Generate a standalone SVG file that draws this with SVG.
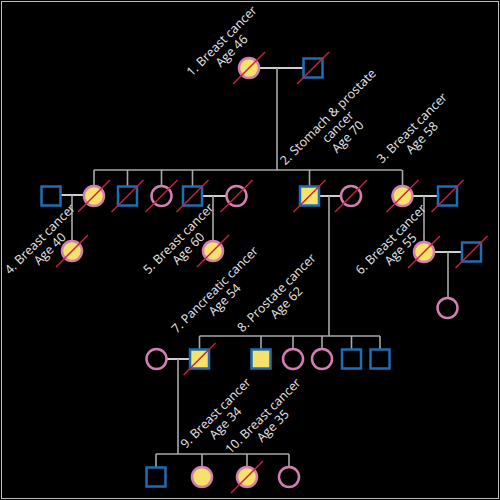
<svg xmlns="http://www.w3.org/2000/svg" xmlns:xlink="http://www.w3.org/1999/xlink" width="500" height="500" viewBox="0 0 500 500">
<style>
.f{stroke:#d47fb3;stroke-width:2.5;fill:none}
.m{stroke:#1f6db5;stroke-width:2.5;fill:none}
.a{fill:#f4e26b}
.ln{stroke:#a8a8a8;stroke-width:1.6;fill:none}
.mar{stroke:#cfcfcf;stroke-width:1.8;fill:none}
.x{stroke:#c8203c;stroke-width:1.5}
.lbl{font-family:"Open Sans","Liberation Sans",sans-serif;font-size:12.5px;fill:#e6e6e6;text-anchor:middle}
</style>
<defs>
<line id="strike" class="x" x1="-16" y1="16" x2="16" y2="-16"/>
</defs>
<rect x="0" y="0" width="500" height="500" fill="#000"/>
<rect x="1.5" y="1.5" width="497" height="497" fill="none" stroke="#bdbdbd" stroke-width="1"/>

<g id="connectors">
<path class="mar" d="M260,68H303"/>
<path class="ln" d="M277,68V170M94,170H402M94,170V185M127.5,170V186M161.5,170V185M192.5,170V186M309.5,170V186M402.5,170V185"/>
<path class="mar" d="M61,195H83M203,196H226M320,196H340M413,196H437M435,252H461M167,359H189"/>
<path class="ln" d="M72,195V240M213,196V240M329,196V336M424,196V241M448,252V297"/>
<path class="ln" d="M199.5,336H380M199.5,336V349M261,336V349M293,336V348M322,336V348M351.5,336V349M380,336V349"/>
<path class="ln" d="M178,359V454M156,454H289M156,454V467M202,454V466M247,454V466M289,454V466"/>
</g>

<g id="n1"><circle class="f a" cx="249" cy="68" r="10"/><use href="#strike" x="249" y="68"/></g>
<g id="n1spouse"><rect class="m" x="303.5" y="58.5" width="19" height="19"/><use href="#strike" x="313" y="68"/></g>

<g id="g2a"><rect class="m" x="41.5" y="186.5" width="19" height="19"/></g>
<g id="g2b"><circle class="f a" cx="94" cy="196" r="10"/><use href="#strike" x="94" y="196"/></g>
<g id="g2c"><rect class="m" x="118" y="186.5" width="19" height="19"/><use href="#strike" x="127.5" y="196"/></g>
<g id="g2d"><circle class="f" cx="161.5" cy="196" r="10"/><use href="#strike" x="161.5" y="196"/></g>
<g id="g2e"><rect class="m" x="183" y="186.5" width="19" height="19"/><use href="#strike" x="192.5" y="196"/></g>
<g id="g2f"><circle class="f" cx="236.5" cy="196" r="10"/><use href="#strike" x="236.5" y="196"/></g>
<g id="g2g"><rect class="m a" x="300" y="186.5" width="19" height="19"/><use href="#strike" x="309.5" y="196"/></g>
<g id="g2h"><circle class="f" cx="351" cy="196" r="10"/><use href="#strike" x="351" y="196"/></g>
<g id="g2i"><circle class="f a" cx="402.5" cy="196" r="10"/><use href="#strike" x="402.5" y="196"/></g>
<g id="g2j"><rect class="m" x="438" y="186.5" width="19" height="19"/><use href="#strike" x="447.5" y="196"/></g>

<g id="g3a"><circle class="f a" cx="72" cy="251" r="10"/><use href="#strike" x="72" y="251"/></g>
<g id="g3b"><circle class="f a" cx="213" cy="251" r="10"/><use href="#strike" x="213" y="251"/></g>
<g id="g3c"><circle class="f a" cx="424" cy="252" r="10"/><use href="#strike" x="424" y="252"/></g>
<g id="g3cspouse"><rect class="m" x="462" y="242.5" width="19" height="19"/><use href="#strike" x="471.5" y="252"/></g>
<g id="g4c"><circle class="f" cx="447.5" cy="308" r="10"/></g>

<g id="g3spouse"><circle class="f" cx="156.5" cy="359" r="10"/></g>
<g id="g3d"><rect class="m a" x="190" y="349.5" width="19" height="19"/><use href="#strike" x="199.5" y="359"/></g>
<g id="g3e"><rect class="m a" x="251.5" y="349.5" width="19" height="19"/></g>
<g id="g3f"><circle class="f" cx="293" cy="359" r="10"/></g>
<g id="g3g"><circle class="f" cx="322" cy="359" r="10"/></g>
<g id="g3h"><rect class="m" x="342" y="349.5" width="19" height="19"/></g>
<g id="g3i"><rect class="m" x="370.5" y="349.5" width="19" height="19"/></g>

<g id="g4a"><rect class="m" x="146.5" y="467.5" width="19" height="19"/></g>
<g id="g4b"><circle class="f a" cx="202" cy="477" r="10"/></g>
<g id="g4d"><circle class="f a" cx="247" cy="477" r="10"/><use href="#strike" x="247" y="477"/></g>
<g id="g4e"><circle class="f" cx="289" cy="477" r="10"/></g>

<g id="labels">
<text class="lbl" transform="translate(224.7,44) rotate(-45)"><tspan x="0" dy="0">1.  Breast cancer</tspan><tspan x="0" dy="14">Age 46</tspan></text>
<text class="lbl" transform="translate(331,120) rotate(-45)"><tspan x="0" dy="0">2. Stomach &amp; prostate</tspan><tspan x="0" dy="14">cancer</tspan><tspan x="0" dy="14">Age 70</tspan></text>
<text class="lbl" transform="translate(415,131) rotate(-45)"><tspan x="0" dy="0">3. Breast cancer</tspan><tspan x="0" dy="14">Age 58</tspan></text>
<text class="lbl" transform="translate(43,242) rotate(-45)"><tspan x="0" dy="0">4. Breast cancer</tspan><tspan x="0" dy="14">Age 40</tspan></text>
<text class="lbl" transform="translate(181.5,241.7) rotate(-45)"><tspan x="0" dy="0">5. Breast cancer</tspan><tspan x="0" dy="14">Age 60</tspan></text>
<text class="lbl" transform="translate(393.8,242.3) rotate(-45)"><tspan x="0" dy="0">6. Breast cancer</tspan><tspan x="0" dy="14">Age 55</tspan></text>
<text class="lbl" transform="translate(217.8,292.8) rotate(-45)"><tspan x="0" dy="0">7. Pancreatic cancer</tspan><tspan x="0" dy="14">Age 54</tspan></text>
<text class="lbl" transform="translate(279.6,295.8) rotate(-45)"><tspan x="0" dy="0">8. Prostate cancer</tspan><tspan x="0" dy="14">Age 62</tspan></text>
<text class="lbl" transform="translate(218.6,416.1) rotate(-45)"><tspan x="0" dy="0">9. Breast cancer</tspan><tspan x="0" dy="14">Age 34</tspan></text>
<text class="lbl" transform="translate(266,419) rotate(-45)"><tspan x="0" dy="0">10. Breast cancer</tspan><tspan x="0" dy="14">Age 35</tspan></text>
</g>
</svg>
